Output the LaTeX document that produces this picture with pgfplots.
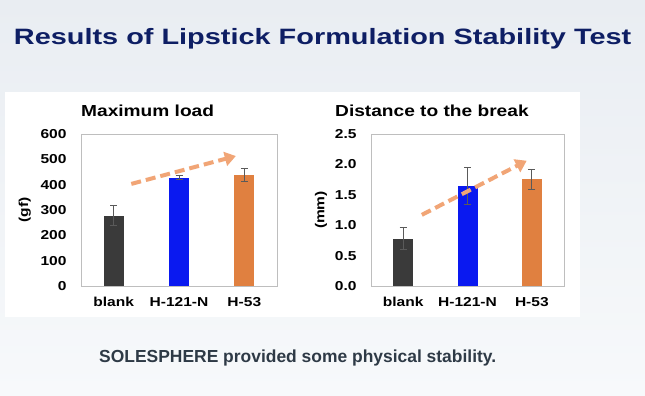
\documentclass[border=0pt]{standalone}
\usepackage{pgfplots}
\pgfplotsset{compat=1.18}
\usepackage{fontspec}
\setmainfont{Liberation Sans}
\newfontfamily\chartfont{Liberation Sans}[FakeStretch=1.2]
\newfontfamily\titlefont{Liberation Sans}[FakeStretch=1.3]
\usetikzlibrary{arrows.meta}
\definecolor{navy}{RGB}{14,30,100}
\definecolor{slate}{RGB}{46,58,70}
\definecolor{bgtop}{RGB}{233,237,242}
\definecolor{bgbot}{RGB}{247,249,251}
\definecolor{cblank}{RGB}{58,58,58}
\definecolor{cblue}{RGB}{10,25,240}
\definecolor{corange}{RGB}{224,128,64}
\definecolor{carrow}{RGB}{241,165,118}
\definecolor{frame}{RGB}{190,190,190}
\definecolor{errc}{RGB}{90,90,90}
\pgfplotsset{
  panel/.style={
    scale only axis, width=196bp, height=152bp,
    anchor=south west,
    xmin=-0.5, xmax=2.5,
    xtick={0,1,2}, xticklabels={blank,H-121-N,H-53},
    major tick length=0pt,
    axis line style={draw=frame, line width=0.6bp},
    tick label style={font=\chartfont\bfseries\fontsize{13}{15}\selectfont, text=black},
    /pgf/number format/assume math mode=true,
    yticklabel style={xshift=-11bp},
    xticklabel style={yshift=-8bp},
    ylabel style={font=\chartfont\bfseries\fontsize{13}{15}\selectfont, anchor=center},
  },
  errs/.style={ybar, bar shift=0pt, bar width=20bp, draw=none, fill=#1,
    error bars/.cd, y dir=both, y explicit,
    error bar style={line width=0.7bp, draw=errc},
    error mark options={rotate=90, mark size=3.5bp, line width=0.7bp, draw=errc}},
  arr/.style={line width=4bp, carrow, dash pattern=on 10bp off 5bp,
    -{Triangle[length=11bp,width=14bp]}},
}
\begin{document}
\begin{tikzpicture}[x=1bp,y=1bp]
\shade[top color=bgtop,bottom color=bgbot] (0,0) rectangle (645,395);
\fill[white] (5,78) rectangle (580,303);
\node[font=\titlefont\bfseries\fontsize{22.3}{26}\selectfont, text=navy, anchor=base, inner sep=0pt] at (322.6,350.7) {Results of Lipstick Formulation Stability Test};
\node[font=\bfseries\fontsize{17.5}{20}\selectfont, text=slate, anchor=base, inner sep=0pt] at (297.7,32.3) {SOLESPHERE provided some physical stability.};
\node[font=\chartfont\bfseries\fontsize{16}{18}\selectfont, anchor=base west, inner sep=0pt] at (81,278.3) {Maximum load};
\node[font=\chartfont\bfseries\fontsize{16}{18}\selectfont, anchor=base west, inner sep=0pt] at (335,278.3) {Distance to the break};

\begin{axis}[panel, at={(81bp,109bp)}, ymin=0, ymax=600, ytick={0,100,...,600},
  ylabel={(gf)}, ylabel style={at={(axis description cs:-0.287,0.5)}}]
\addplot[errs=cblank] coordinates {(0,278) +- (0,40)};
\addplot[errs=cblue] coordinates {(1,428) +- (0,8)};
\addplot[errs=corange] coordinates {(2,438) +- (0,26)};
\addplot[arr] coordinates {(0.27,403) (1.87,513)};
\end{axis}

\begin{axis}[panel, at={(371bp,109bp)}, width=193bp, ymin=0, ymax=2.5, ytick={0,0.5,...,2.5},
  yticklabel style={/pgf/number format/.cd, fixed, fixed zerofill, precision=1},
  ylabel={(mm)}, ylabel style={at={(axis description cs:-0.259,0.5)}}]
\addplot[errs=cblank] coordinates {(0,0.78) +- (0,0.18)};
\addplot[errs=cblue] coordinates {(1,1.645) +- (0,0.30)};
\addplot[errs=corange] coordinates {(2,1.755) +- (0,0.16)};
\addplot[arr] coordinates {(0.29,1.17) (1.92,2.06)};
\end{axis}
\end{tikzpicture}
\end{document}
